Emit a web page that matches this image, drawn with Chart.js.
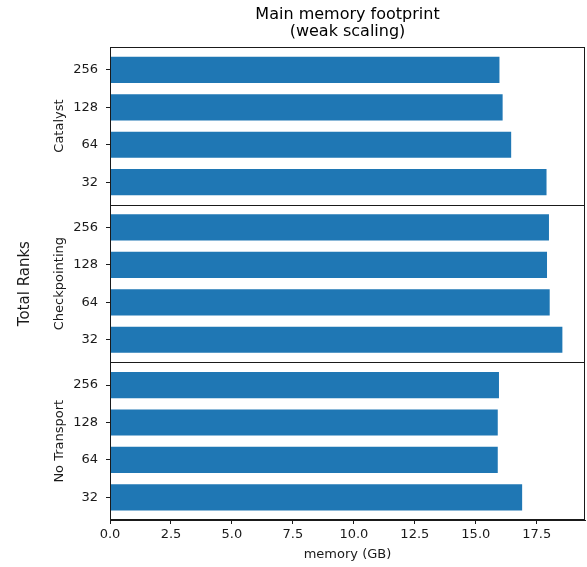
<!DOCTYPE html>
<html>
<head>
<meta charset="utf-8">
<script src="https://cdn.jsdelivr.net/npm/chart.js@4/dist/chart.umd.min.js"></script>
<style>
  html, body { margin: 0; padding: 0; background: #fff; }
  #wrap { width: 587px; height: 567px; position: relative; }
</style>
</head>
<body>
<div id="wrap"><canvas id="c" width="587" height="567"></canvas></div>
<script>
// Total ranks, listed from the bottom bar of each panel to the top one
const RANKS = ['32', '64', '128', '256'];

// Main memory footprint in GB, one value per entry of RANKS
const CATALYST      = [17.9, 16.45, 16.1, 15.97];
const CHECKPOINTING = [18.55, 18.03, 17.92, 18.0];
const NO_TRANSPORT  = [16.9, 15.9, 15.9, 15.95];

const PANELS = ['Catalyst', 'Checkpointing', 'No Transport'];
const X_TICKS = [0, 2.5, 5, 7.5, 10, 12.5, 15, 17.5];

const FONT = 'DejaVu Sans';
const INK = '#1a1a1a';
const BAR = '#1f77b4';

const allValues = CATALYST.concat(CHECKPOINTING, NO_TRANSPORT);
const xMax = Math.max(...allValues) * 1.05;

function points(values) {
  return values.map((v, i) => ({ x: v, y: i }));
}

function panelAxis(title) {
  return {
    type: 'linear',
    position: 'left',
    stack: 'panels',
    stackWeight: 1,
    offset: false,
    min: -0.605,
    max: RANKS.length - 1 + 0.605,
    afterBuildTicks: (s) => { s.ticks = RANKS.map((_, i) => ({ value: i })); },
    afterFit: (s) => { s.width = 65; },
    ticks: {
      callback: (v) => RANKS[v] ?? '',
      font: { family: FONT, size: 13 },
      color: INK,
      padding: 8
    },
    grid: {
      offset: false,
      drawOnChartArea: false,
      drawTicks: true,
      tickLength: 4,
      tickColor: INK,
      lineWidth: 1
    },
    border: { display: true, color: INK, width: 1 },
    title: {
      display: true,
      text: title,
      font: { family: FONT, size: 13 },
      color: INK,
      padding: { top: 7, bottom: 0 }
    }
  };
}

// Frames the panels (one outer box plus a rule between panels)
// and writes the shared y-axis caption
const panelFrames = {
  id: 'panelFrames',
  afterDraw(chart) {
    const { ctx, chartArea } = chart;
    const l = Math.round(chartArea.left) + 0.5;
    const r = Math.round(chartArea.right) - 0.5;
    const t = Math.round(chartArea.top) + 0.5;
    const b = Math.round(chartArea.bottom) - 0.5;
    ctx.save();
    ctx.strokeStyle = INK;
    ctx.lineWidth = 1;
    ctx.strokeRect(l, t, r - l, b - t);
    ['yChk', 'yNo'].forEach((id) => {
      const y = Math.round(chart.scales[id].top) + 0.5;
      ctx.beginPath();
      ctx.moveTo(l, y);
      ctx.lineTo(r, y);
      ctx.stroke();
    });
    ctx.fillStyle = INK;
    ctx.font = '15px "' + FONT + '"';
    ctx.textAlign = 'center';
    ctx.textBaseline = 'middle';
    ctx.translate(25, (chartArea.top + chartArea.bottom) / 2);
    ctx.rotate(-Math.PI / 2);
    ctx.fillText('Total Ranks', 0, 0);
    ctx.restore();
  }
};

const barStyle = {
  backgroundColor: BAR,
  borderWidth: 0,
  categoryPercentage: 1,
  barPercentage: 0.7,
  grouped: false,
  xAxisID: 'x'
};

new Chart(document.getElementById('c'), {
  type: 'bar',
  data: {
    datasets: [
      Object.assign({ label: PANELS[0], data: points(CATALYST), yAxisID: 'yCat' }, barStyle),
      Object.assign({ label: PANELS[1], data: points(CHECKPOINTING), yAxisID: 'yChk' }, barStyle),
      Object.assign({ label: PANELS[2], data: points(NO_TRANSPORT), yAxisID: 'yNo' }, barStyle)
    ]
  },
  options: {
    responsive: false,
    animation: false,
    indexAxis: 'y',
    layout: { padding: { left: 45, right: 2, top: 0, bottom: 0 } },
    plugins: {
      legend: { display: false },
      tooltip: { enabled: false },
      colors: { enabled: false },
      title: {
        display: true,
        fullSize: false,
        text: ['Main memory footprint', '(weak scaling)'],
        font: { family: FONT, size: 16, weight: 'normal', lineHeight: 1.07 },
        color: '#000',
        padding: { top: 6.5, bottom: 6.5 }
      }
    },
    scales: {
      x: {
        type: 'linear',
        position: 'bottom',
        min: 0,
        max: xMax,
        afterBuildTicks: (s) => { s.ticks = X_TICKS.map((v) => ({ value: v })); },
        afterFit: (s) => { s.height = 47; },
        ticks: {
          callback: (v) => Number(v).toFixed(1),
          font: { family: FONT, size: 13 },
          color: INK,
          padding: 3,
          maxRotation: 0
        },
        grid: {
          drawOnChartArea: false,
          drawTicks: true,
          tickLength: 4,
          tickColor: INK
        },
        border: { display: true, color: INK, width: 1 },
        title: {
          display: true,
          text: 'memory (GB)',
          font: { family: FONT, size: 13 },
          color: INK,
          padding: { top: 0, bottom: 5 }
        }
      },
      // panels are stacked bottom-up in the order they are declared
      yNo: panelAxis(PANELS[2]),
      yChk: panelAxis(PANELS[1]),
      yCat: panelAxis(PANELS[0])
    }
  },
  plugins: [panelFrames]
});
</script>
</body>
</html>
